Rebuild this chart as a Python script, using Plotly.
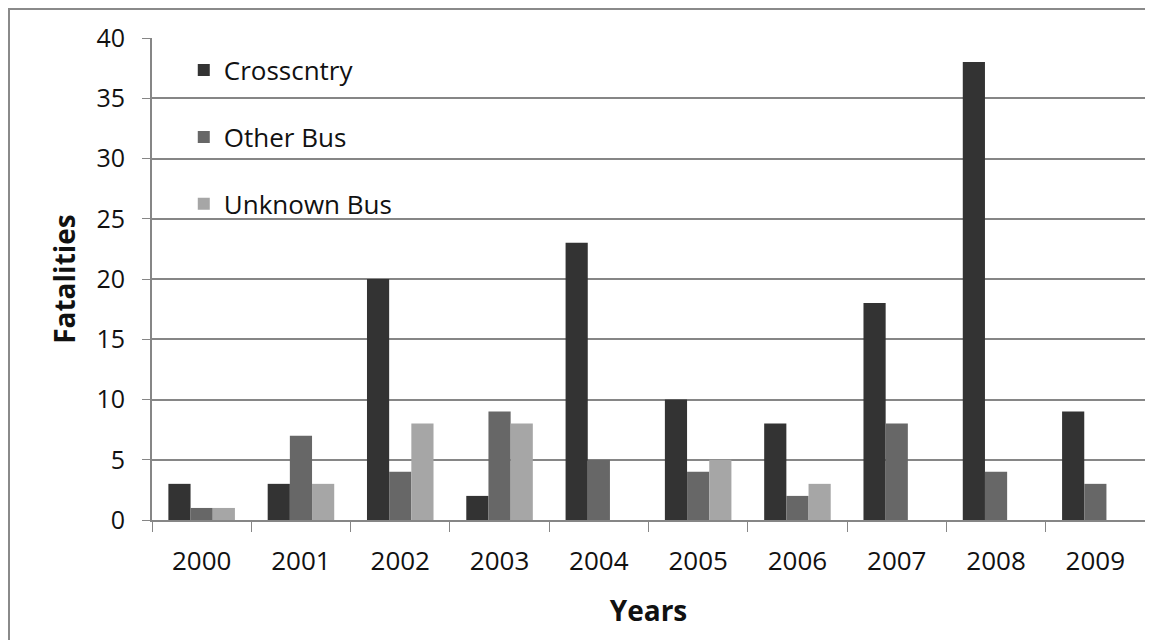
import plotly.graph_objects as go

years = ["2000", "2001", "2002", "2003", "2004", "2005", "2006", "2007", "2008", "2009"]
crosscntry = [3, 3, 20, 2, 23, 10, 8, 18, 38, 9]
other_bus = [1, 7, 4, 9, 5, 4, 2, 8, 4, 3]
unknown_bus = [1, 3, 8, 8, 0, 5, 3, 0, 0, 0]

series = [
    ("Crosscntry", crosscntry, "#333333"),
    ("Other Bus", other_bus, "#676767"),
    ("Unknown Bus", unknown_bus, "#a6a6a6"),
]

FONT = "Open Sans"
fig = go.Figure()
for i, (name, vals, col) in enumerate(series):
    fig.add_trace(go.Bar(x=years, y=vals, name=name, marker_color=col,
                         marker_line_width=0, legendgroup=f"g{i}"))

# page body has an 8px offset; margins compensate so the plot lands where the reference has it
OFF = 8
W, H = 1153, 640
L, R, T, B = 152 - OFF, 16, 38 - OFF, 128
pw, ph = W - L - R, H - T - B

def px_x(xf):
    return (xf - L) / pw

def px_y(yf):
    return 1 - (yf - T) / ph

fig.update_layout(
    width=W, height=H,
    margin=dict(l=L, r=R, t=T, b=B),
    paper_bgcolor="white", plot_bgcolor="white",
    barmode="group", bargap=0.33, bargroupgap=0,
    font=dict(family=FONT, color="#111111", size=26),
    legend=dict(x=0.032, y=0.982, xanchor="left", yanchor="top",
                traceorder="grouped", tracegroupgap=30,
                font=dict(family=FONT, size=26, color="#111111"),
                bgcolor="rgba(0,0,0,0)", itemwidth=30),
    xaxis=dict(
        type="category", showgrid=False, showline=True, linecolor="#868686", linewidth=2,
        ticks="outside", tickson="boundaries", ticklen=10, tickcolor="#868686",
        tickfont=dict(family=FONT, size=26, color="#111111"),
        ticklabelstandoff=17,
        title=dict(text="<b>Years</b>", font=dict(family=FONT, size=28, color="#111111"), standoff=24),
    ),
    yaxis=dict(
        range=[0, 40], dtick=5, showgrid=True, gridcolor="#868686", gridwidth=1.5,
        showline=True, linecolor="#868686", linewidth=2, zeroline=False,
        ticks="outside", ticklen=8, tickcolor="#868686",
        tickfont=dict(family=FONT, size=25, color="#111111"),
        ticklabelstandoff=12,
        title=dict(text="<b>Fatalities</b>", font=dict(family=FONT, size=28, color="#111111"), standoff=13),
    ),
    shapes=[dict(type="rect", xref="paper", yref="paper",
                 x0=px_x(1), x1=px_x(1144),
                 y0=px_y(H + 20), y1=px_y(1),
                 line=dict(color="#8a8a8a", width=2), layer="below")],
)

fig.write_html("out.html")
